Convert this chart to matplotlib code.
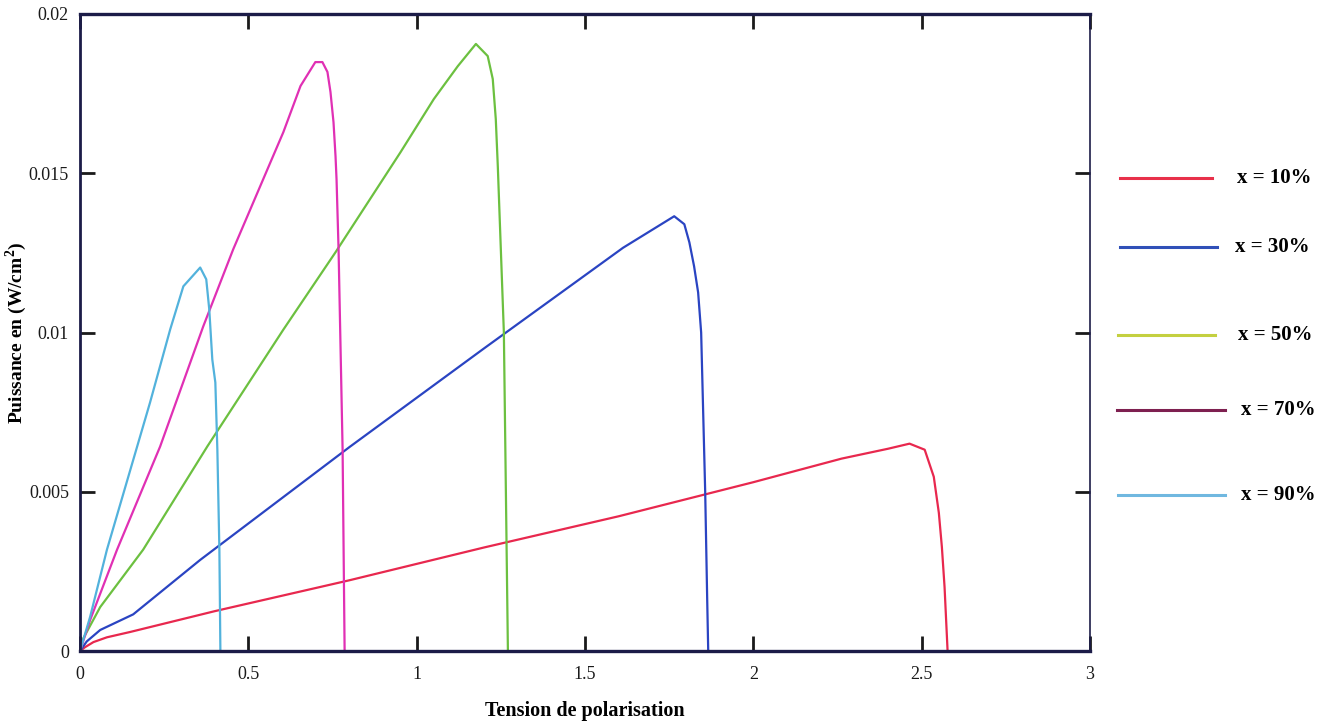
import matplotlib
matplotlib.use("Agg")
import matplotlib.pyplot as plt
from matplotlib.lines import Line2D

plt.rcParams['font.family'] = ['Liberation Serif', 'DejaVu Serif']

# Power-voltage curves for each composition x
v_10 = [0, 0.015, 0.04, 0.08, 0.15, 0.40, 0.80, 1.20, 1.60, 2.00, 2.262, 2.40, 2.464, 2.509,
        2.536, 2.551, 2.560, 2.568, 2.577]
p_10 = [0, 0.00012, 0.00028, 0.00043, 0.0006, 0.00125, 0.00222, 0.00325, 0.00423, 0.0053,
        0.00604, 0.00635, 0.00651, 0.00632, 0.00547, 0.00434, 0.00327, 0.00201, 0.0]

v_30 = [0, 0.02, 0.06, 0.158, 0.357, 0.80, 1.20, 1.613, 1.765, 1.795, 1.810, 1.824,
        1.836, 1.845, 1.857, 1.863, 1.866]
p_30 = [0, 0.0003, 0.00066, 0.00115, 0.00286, 0.0064, 0.0095, 0.01266, 0.01365, 0.0134,
        0.01283, 0.01208, 0.01126, 0.0100, 0.0050, 0.0016, 0.0]

v_50 = [0, 0.01, 0.060, 0.1875, 0.378, 0.604, 0.759, 0.952, 1.051, 1.122, 1.176, 1.211,
        1.226, 1.235, 1.241, 1.259, 1.265, 1.271]
p_50 = [0, 0.0004, 0.00138, 0.00318, 0.00642, 0.01009, 0.01252, 0.01566, 0.01733, 0.01836,
        0.01906, 0.01868, 0.01796, 0.0167, 0.01522, 0.0100, 0.0050, 0.0]

v_70 = [0, 0.030, 0.110, 0.238, 0.366, 0.455, 0.557, 0.604, 0.655, 0.699, 0.720, 0.735,
        0.744, 0.753, 0.759, 0.762, 0.768, 0.780, 0.786]
p_70 = [0, 0.00097, 0.00318, 0.00642, 0.01019, 0.01261, 0.01513, 0.01629, 0.01774, 0.01849,
        0.01849, 0.01818, 0.01755, 0.0166, 0.01553, 0.01481, 0.01261, 0.00632, 0.0]

v_90 = [0, 0.030, 0.080, 0.208, 0.268, 0.307, 0.357, 0.375, 0.384, 0.393, 0.402, 0.408,
        0.414, 0.417]
p_90 = [0, 0.00107, 0.00318, 0.0078, 0.0101, 0.01145, 0.01204, 0.01167, 0.01072, 0.00915,
        0.00843, 0.00632, 0.00318, 0.0]

labels = ["x = 10%", "x = 30%", "x = 50%", "x = 70%", "x = 90%"]
curve_colors = ["#e8284e", "#2a44c2", "#6cc040", "#e030b4", "#52b2dc"]
legend_colors = ["#e8304a", "#3050b8", "#c4d040", "#7e2050", "#70b8e0"]

x_ticks = [0, 0.5, 1, 1.5, 2, 2.5, 3]
x_tick_labels = ["0", "0.5", "1", "1.5", "2", "2.5", "3"]
y_ticks = [0, 0.005, 0.01, 0.015, 0.02]
y_tick_labels = ["0", "0.005", "0.01", "0.015", "0.02"]

fig = plt.figure(figsize=(13.29, 7.24), dpi=100)
ax = fig.add_axes([80 / 1329, 1 - 651 / 724, 1010 / 1329, 637 / 724])

series = [(v_10, p_10), (v_30, p_30), (v_50, p_50), (v_70, p_70), (v_90, p_90)]
for (v, p), c in zip(series, curve_colors):
    ax.plot(v, p, color=c, lw=1.6, solid_joinstyle='round')

ax.set_xlim(0, 3)
ax.set_ylim(0, 0.02)
ax.set_xticks(x_ticks)
ax.set_xticklabels(x_tick_labels)
ax.set_yticks(y_ticks)
ax.set_yticklabels(y_tick_labels)
ax.tick_params(direction='in', length=11, width=2, colors='#1a1a1a',
               top=True, right=True, labelsize=13)
ax.tick_params(axis='x', pad=11)
ax.tick_params(axis='y', pad=8)
for side, lw in zip(['left', 'right', 'top', 'bottom'], [2.0, 1.2, 2.4, 2.4]):
    ax.spines[side].set_linewidth(lw)
    ax.spines[side].set_color('#1c1c48')

ax.set_xlabel("Tension de polarisation", fontsize=14.5, fontweight='bold')
ax.xaxis.set_label_coords(0.5, -(701 - 651) / 637)
ax.set_ylabel("Puissance en (W/cm$^\\mathregular{2}$)", fontsize=14, fontweight='bold')
ax.yaxis.set_label_coords(-(80 - 29) / 1010, 0.5)

# Legend drawn beside the axes
leg_y = [178, 247, 335, 410, 495]
leg_x0 = [1120, 1120, 1118, 1117, 1118]
leg_x1 = [1212, 1217, 1215, 1225, 1225]
txt_x = [1237, 1235, 1238, 1241, 1241]
for y, x0, x1, tx, c, lab in zip(leg_y, leg_x0, leg_x1, txt_x, legend_colors, labels):
    fy = 1 - y / 724
    fig.add_artist(Line2D([x0 / 1329, x1 / 1329], [fy, fy], color=c, lw=2.2,
                          transform=fig.transFigure))
    fig.text(tx / 1329, fy, lab, fontsize=15, fontweight='bold', va='center', ha='left')

fig.savefig("out.png", dpi=100)
